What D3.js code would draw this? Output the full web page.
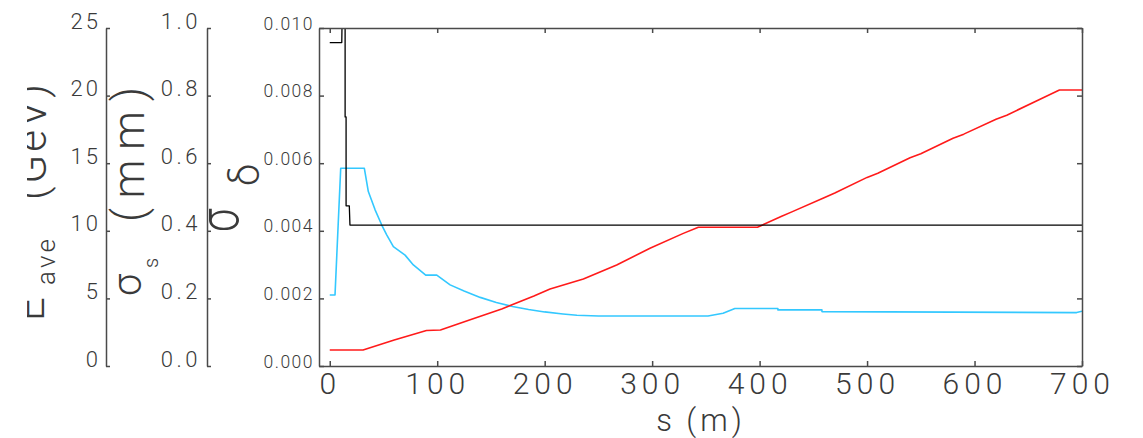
<!DOCTYPE html>
<html><head><meta charset="utf-8">
<script src="https://cdn.jsdelivr.net/npm/d3@7"></script>
<style>
body{margin:0;background:#fff}
svg{display:block}
text{font-family:Roboto,"Liberation Sans",Arial,sans-serif;font-weight:300;fill:#3a3a3a}
.axis path,.axis line{stroke:#4a4a4a;stroke-width:1.5}
</style>
</head><body>
<svg id="c" width="1143" height="438"></svg>
<script>
// ---- tick labels ----
const sTicks = [0, 100, 200, 300, 400, 500, 600, 700];
const deltaTicks = [0, 0.002, 0.004, 0.006, 0.008, 0.010];
const energyTicks = [0, 5, 10, 15, 20, 25];
const sigmaSTicks = [0, 0.2, 0.4, 0.6, 0.8, 1.0];

// ---- series: average energy E_ave (GeV) vs s (m) ----
const energyS   = [0, 31, 60, 90, 103, 130, 160, 190, 205, 236, 267, 298, 329, 343, 398, 420, 430, 460, 470, 500, 510, 540, 550, 580, 590, 620, 630, 660, 679, 700];
const energyGeV = [1.18, 1.18, 1.92, 2.63, 2.66, 3.40, 4.22, 5.18, 5.70, 6.43, 7.47, 8.71, 9.81, 10.26, 10.26, 11.05, 11.40, 12.45, 12.80, 13.95, 14.25, 15.40, 15.70, 16.85, 17.15, 18.25, 18.55, 19.70, 20.41, 20.41];

// ---- series: bunch length sigma_s (mm) vs s (m) ----
const sigmaSS  = [0, 11.2, 12.6, 14.3, 14.3, 15.2, 15.2, 18.2, 18.8, 700];
const sigmaSmm = [0.957, 0.957, 1.3, 1.3, 0.737, 0.737, 0.474, 0.474, 0.417, 0.417];

// ---- series: energy spread sigma_delta vs s (m) ----
const sigmaDS    = [0, 4.9, 10.2, 32.2, 35.9, 42.2, 48.4, 53.0, 59.2, 70.1, 77.8, 89.3, 99.6, 112, 125, 140, 155, 170, 185, 200, 217, 230, 250, 352, 366, 377, 417, 417, 458, 458, 695, 700];
const sigmaDelta = [0.00210, 0.00210, 0.00585, 0.00585, 0.00516, 0.00462, 0.00417, 0.00388, 0.00353, 0.00328, 0.00299, 0.00269, 0.00269, 0.00240, 0.00222, 0.00203, 0.00188, 0.00176, 0.00167, 0.00160, 0.00154, 0.00150, 0.00148, 0.00148, 0.00156, 0.00170, 0.00170, 0.00166, 0.00166, 0.00161, 0.00158, 0.00162];

const svg = d3.select("#c");
const L = 319, R = 1082, T = 28, B = 366;

const x = d3.scaleLinear().domain([-10, 700]).range([L, R]);
const yD = d3.scaleLinear().domain([0, 0.010]).range([B, T]);
const yE = d3.scaleLinear().domain([0, 25]).range([B, T]);
const yS = d3.scaleLinear().domain([0, 1.0]).range([B, T]);

const defs = svg.append("defs");
defs.append("clipPath").attr("id","plotclip").append("rect")
  .attr("x", L).attr("y", T).attr("width", R - L).attr("height", B - T);
defs.append("clipPath").attr("id","clipE").append("rect")
  .attr("x", 27).attr("y", 0).attr("width", 79).attr("height", 438);
defs.append("clipPath").attr("id","clipS").append("rect")
  .attr("x", 107).attr("y", 0).attr("width", 100).attr("height", 438);
defs.append("clipPath").attr("id","clipD").append("rect")
  .attr("x", 208).attr("y", 0).attr("width", 110).attr("height", 438);

function drawLine(xs, ys, yscale, color, w) {
  const data = xs.map((v, i) => [v, ys[i]]);
  svg.append("path")
    .attr("clip-path", "url(#plotclip)")
    .attr("d", d3.line().x(d => x(d[0])).y(d => yscale(d[1]))(data))
    .attr("fill", "none").attr("stroke", color).attr("stroke-width", w)
    .attr("stroke-linejoin", "round");
}
drawLine(sigmaDS, sigmaDelta, yD, "#33c8ff", 1.6);
drawLine(energyS, energyGeV, yE, "#ff1a1a", 1.6);
drawLine(sigmaSS, sigmaSmm, yS, "#000000", 1.3);

const gB = svg.append("g").attr("class","axis").attr("transform",`translate(0,${B})`)
  .call(d3.axisBottom(x).tickValues(sTicks).tickSize(-5).tickSizeOuter(0).tickFormat(d3.format("d")));
gB.selectAll("text").attr("dy", 0).attr("y", 28)
  .style("font-size","30px").style("letter-spacing","5px").attr("fill","#3a3a3a");
svg.append("g").attr("class","axis").attr("transform",`translate(0,${T})`)
  .call(d3.axisTop(x).tickValues(sTicks).tickSize(-5).tickSizeOuter(0).tickFormat(""));
svg.append("g").attr("class","axis").attr("transform",`translate(${R},0)`)
  .call(d3.axisRight(yD).tickValues(deltaTicks).tickSize(-5).tickSizeOuter(0).tickFormat(""));
const gL = svg.append("g").attr("class","axis").attr("transform",`translate(${L},0)`)
  .call(d3.axisLeft(yD).tickValues(deltaTicks).tickSize(-5).tickSizeOuter(0).tickPadding(5).tickFormat(d3.format(".3f")));
gL.selectAll("text").attr("dy", 1)
  .style("font-size","17.5px").style("letter-spacing","1.5px").attr("fill","#3a3a3a");

const gE = svg.append("g").attr("class","axis").attr("transform","translate(106,0)")
  .call(d3.axisLeft(yE).tickValues(energyTicks).tickSize(-4).tickSizeOuter(0).tickPadding(5).tickFormat(d3.format("d")));
gE.selectAll("text").attr("dy", 0)
  .style("font-size","22px").style("letter-spacing","3px").attr("fill","#3a3a3a");
const gS = svg.append("g").attr("class","axis").attr("transform","translate(207,0)")
  .call(d3.axisLeft(yS).tickValues(sigmaSTicks).tickSize(-4).tickSizeOuter(0).tickPadding(6).tickFormat(d3.format(".1f")));
gS.selectAll("text").attr("dy", 0)
  .style("font-size","22px").style("letter-spacing","3.5px").attr("fill","#3a3a3a");

function vtext(parent, str, bx, by, size, opts = {}) {
  const sc = opts.sx ? ` scale(${opts.sx},1)` : "";
  const t = parent.append("text")
    .attr("transform", `translate(${bx},${by}) rotate(-90)${sc}`)
    .attr("text-anchor", "start")
    .style("font-size", size + "px")
    .text(str);
  if (opts.len) t.attr("textLength", opts.len).attr("lengthAdjust", "spacing");
  return t;
}
const tE = svg.append("g").attr("clip-path","url(#clipE)");
vtext(tE, "E", 44, 321, 42);
vtext(tE, "ave", 55, 285, 26, {len: 46});
vtext(tE, "(GeV)", 46, 200, 42, {len: 116});

const tS = svg.append("g").attr("clip-path","url(#clipS)");
vtext(tS, "σ", 141, 296, 40);
vtext(tS, "s", 158, 268, 20);
vtext(tS, "(mm)", 144, 222, 44, {len: 135});

const tD = svg.append("g").attr("clip-path","url(#clipD)");
vtext(tD, "σ", 238, 232, 56, {sx: 0.75});
vtext(tD, "δ", 259, 186, 40);

svg.append("text").attr("x", 664).attr("y", 431).attr("text-anchor","middle")
  .style("font-size","31px").text("s");
svg.append("text").attr("x", 716).attr("y", 431).attr("text-anchor","middle")
  .style("font-size","31px").style("letter-spacing","4px").text("(m)");
</script>
</body></html>
